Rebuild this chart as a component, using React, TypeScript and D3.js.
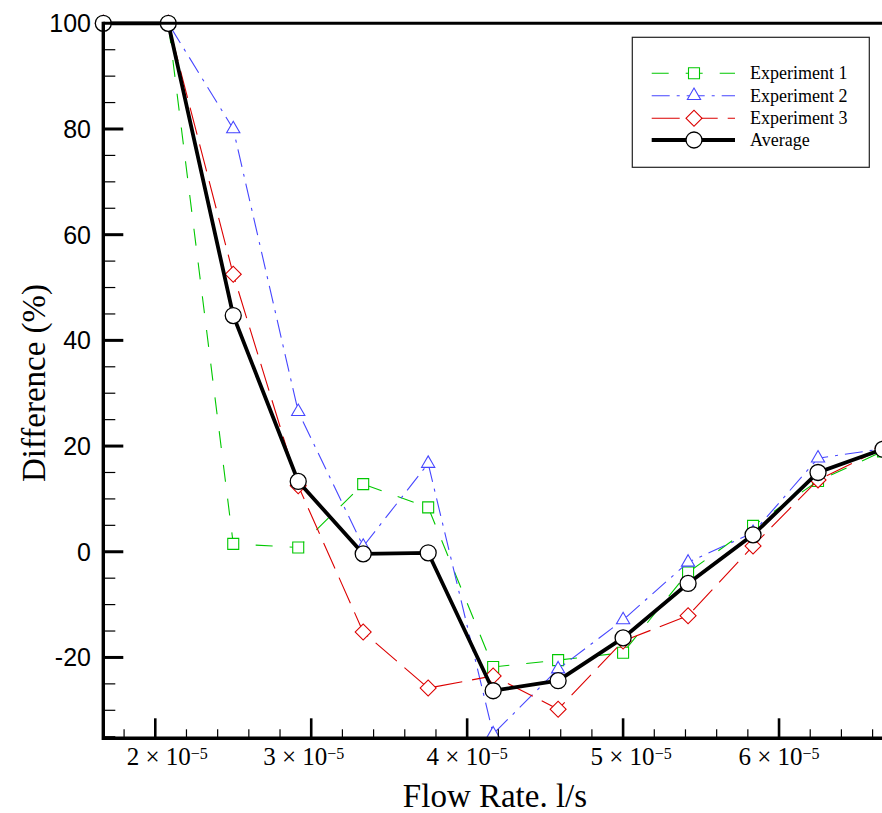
import React, { useRef, useEffect } from "react";
import * as d3 from "d3";

// Flow rate (l/s)
const flowRate = [
  1.6667e-5, 2.0833e-5, 2.5e-5, 2.9167e-5, 3.3333e-5, 3.75e-5, 4.1667e-5,
  4.5833e-5, 5.0e-5, 5.4167e-5, 5.8333e-5, 6.25e-5, 6.6667e-5,
];
const experiment1 = [100, 100, 1.5, 0.8, 12.8, 8.4, -21.8, -20.5, -19.1, -3.9, 4.9, 13.4, 19.0];
const experiment2 = [100, 100, 80.0, 26.5, 1.0, 16.7, -34.5, -22.2, -12.9, -2.0, 3.6, 17.7, 19.5];
const experiment3 = [100, 100, 52.5, 12.5, -15.2, -25.8, -23.5, -29.8, -16.9, -12.1, 1.1, 13.6, 19.6];
const average = [100, 100, 44.7, 13.3, -0.4, -0.2, -26.3, -24.4, -16.3, -6.0, 3.2, 15.0, 19.4];

const seriesNames = ["Experiment 1", "Experiment 2", "Experiment 3", "Average"];
const yMajorTicks = [-20, 0, 20, 40, 60, 80, 100];
const xMajorTickMantissas = [2, 3, 4, 5, 6];
const xExponent = "\u22125";
const xTitle = "Flow Rate. l/s";
const yTitle = "Difference (%)";

const W = 882;
const H = 813;

export default function App() {
  const ref = useRef<SVGSVGElement>(null);

  useEffect(() => {
    const svg = d3.select(ref.current);
    svg.selectAll("*").remove();

    const left = 103.3;
    const top = 23.3;
    const bottom = 738.3;
    const x = d3.scaleLinear().domain([1.6667e-5, 6.6667e-5]).range([left, 883]);
    const y = d3.scaleLinear().domain([-35.3, 100]).range([bottom, top]);

    const styles = [
      { color: "#00c800", dash: "17,17", width: 1.1, marker: "square" },
      { color: "#4646ff", dash: "18,7,3,7", width: 1.1, marker: "triangle" },
      { color: "#dc0000", dash: "28,10", width: 1.1, marker: "diamond" },
      { color: "#000000", dash: null as string | null, width: 3.8, marker: "circle" },
    ];
    const allSeries = [experiment1, experiment2, experiment3, average];

    const markerPath = (kind: string) => {
      if (kind === "square") return d3.symbol(d3.symbolSquare, 121)()!;
      if (kind === "triangle") return d3.symbol(d3.symbolTriangle, 76)()!;
      if (kind === "diamond") return d3.symbol(d3.symbolSquare, 128)()!;
      return d3.symbol(d3.symbolCircle, Math.PI * 64)()!;
    };
    const drawMarker = (g: any, kind: string, color: string, cx: number, cy: number) => {
      const p = g
        .append("path")
        .attr("d", markerPath(kind))
        .attr("fill", "#fff")
        .attr("stroke", kind === "circle" ? "#000" : color)
        .attr("stroke-width", kind === "circle" ? 1.3 : 1.1);
      if (kind === "diamond") p.attr("transform", `translate(${cx},${cy}) rotate(45)`);
      else p.attr("transform", `translate(${cx},${cy})`);
    };

    const line = d3
      .line<number>()
      .x((_, i) => x(flowRate[i]))
      .y((d) => y(d));

    const dataG = svg.append("g");
    allSeries.forEach((vals, si) => {
      const st = styles[si];
      const g = dataG.append("g");
      const path = g
        .append("path")
        .attr("d", line(vals)!)
        .attr("fill", "none")
        .attr("stroke", st.color)
        .attr("stroke-width", st.width)
        .attr("stroke-linejoin", "miter");
      if (st.dash) path.attr("stroke-dasharray", st.dash);
      vals.forEach((v, i) => drawMarker(g, st.marker, st.color, x(flowRate[i]), y(v)));
    });

    // frame & ticks
    const axG = svg.append("g").attr("stroke", "#000");
    axG.append("line").attr("x1", left).attr("x2", W).attr("y1", top).attr("y2", top).attr("stroke-width", 3);
    axG.append("line").attr("x1", left).attr("x2", W).attr("y1", bottom).attr("y2", bottom).attr("stroke-width", 3.6);
    axG.append("line").attr("x1", left).attr("x2", left).attr("y1", top - 1.5).attr("y2", bottom + 1.8).attr("stroke-width", 3.4);

    // y ticks
    const yMinor = d3.range(-35, 100.1, 5).filter((v) => !yMajorTicks.includes(v) && v > -35.3);
    yMinor.forEach((v) => {
      axG.append("line").attr("x1", left).attr("x2", left + 12).attr("y1", y(v)).attr("y2", y(v)).attr("stroke-width", 1.2);
    });
    yMajorTicks.forEach((v) => {
      if (v < 100)
        axG.append("line").attr("x1", left).attr("x2", left + 20).attr("y1", y(v)).attr("y2", y(v)).attr("stroke-width", 3);
    });
    const yLab = svg.append("g");
    yMajorTicks.forEach((v) => {
      yLab
        .append("text")
        .attr("x", 91)
        .attr("y", y(v))
        .attr("dy", "0.36em")
        .attr("text-anchor", "end")
        .attr("font-family", "'Liberation Sans', Arial, sans-serif")
        .attr("font-size", 25)
        .attr("fill", "#000")
        .text(String(v));
    });

    // x ticks
    const xMinorVals = d3.range(18, 67, 2).map((v) => v * 1e-6).filter((v) => Math.round(v * 1e6) % 10 !== 0);
    xMinorVals.forEach((v) => {
      axG.append("line").attr("x1", x(v)).attr("x2", x(v)).attr("y1", bottom).attr("y2", bottom - 9).attr("stroke-width", 1.2);
    });
    xMajorTickMantissas.forEach((m) => {
      const v = m * 1e-5;
      axG.append("line").attr("x1", x(v)).attr("x2", x(v)).attr("y1", bottom).attr("y2", bottom - 20).attr("stroke-width", 2.6);
    });
    const labelShift = [12, -7.5, 0, 8, 0];
    const xLab = svg.append("g");
    xMajorTickMantissas.forEach((m, i) => {
      const v = m * 1e-5;
      const t = xLab
        .append("text")
        .attr("x", x(v) + labelShift[i])
        .attr("y", 765)
        .attr("text-anchor", "middle")
        .attr("font-family", "'Liberation Serif', 'Times New Roman', serif")
        .attr("font-size", 25)
        .attr("fill", "#000");
      t.append("tspan").text(`${m} \u00d7 10`);
      t.append("tspan").attr("dy", -6).attr("font-size", 16).text(xExponent);
    });

    // titles
    svg
      .append("text")
      .attr("x", 495)
      .attr("y", 807)
      .attr("text-anchor", "middle")
      .attr("font-family", "'Liberation Serif', 'Times New Roman', serif")
      .attr("font-size", 33)
      .attr("fill", "#000")
      .text(xTitle);
    svg
      .append("text")
      .attr("transform", `translate(45,383) rotate(-90)`)
      .attr("text-anchor", "middle")
      .attr("font-family", "'Liberation Serif', 'Times New Roman', serif")
      .attr("font-size", 33)
      .attr("fill", "#000")
      .text(yTitle);

    // legend
    const lg = svg.append("g");
    lg.append("rect")
      .attr("x", 632.3)
      .attr("y", 37.3)
      .attr("width", 237)
      .attr("height", 130)
      .attr("fill", "#fff")
      .attr("stroke", "#222")
      .attr("stroke-width", 1.2);
    const rowY = [73.3, 95.7, 118.3, 140];
    seriesNames.forEach((name, i) => {
      const st = styles[i];
      const ly = rowY[i];
      const l = lg
        .append("line")
        .attr("x1", 651.7)
        .attr("x2", 735)
        .attr("y1", ly)
        .attr("y2", ly)
        .attr("stroke", st.color)
        .attr("stroke-width", st.width);
      if (st.dash) l.attr("stroke-dasharray", st.dash);
      drawMarker(lg, st.marker, st.color, 694, ly);
      lg.append("text")
        .attr("x", 750)
        .attr("y", ly + 6)
        .attr("font-family", "'Liberation Serif', 'Times New Roman', serif")
        .attr("font-size", 18)
        .attr("fill", "#000")
        .text(name);
    });
  }, []);

  return (
    <svg
      ref={ref}
      width={W}
      height={H}
      style={{ position: "absolute", left: 0, top: 0, background: "#fff" }}
    />
  );
}
